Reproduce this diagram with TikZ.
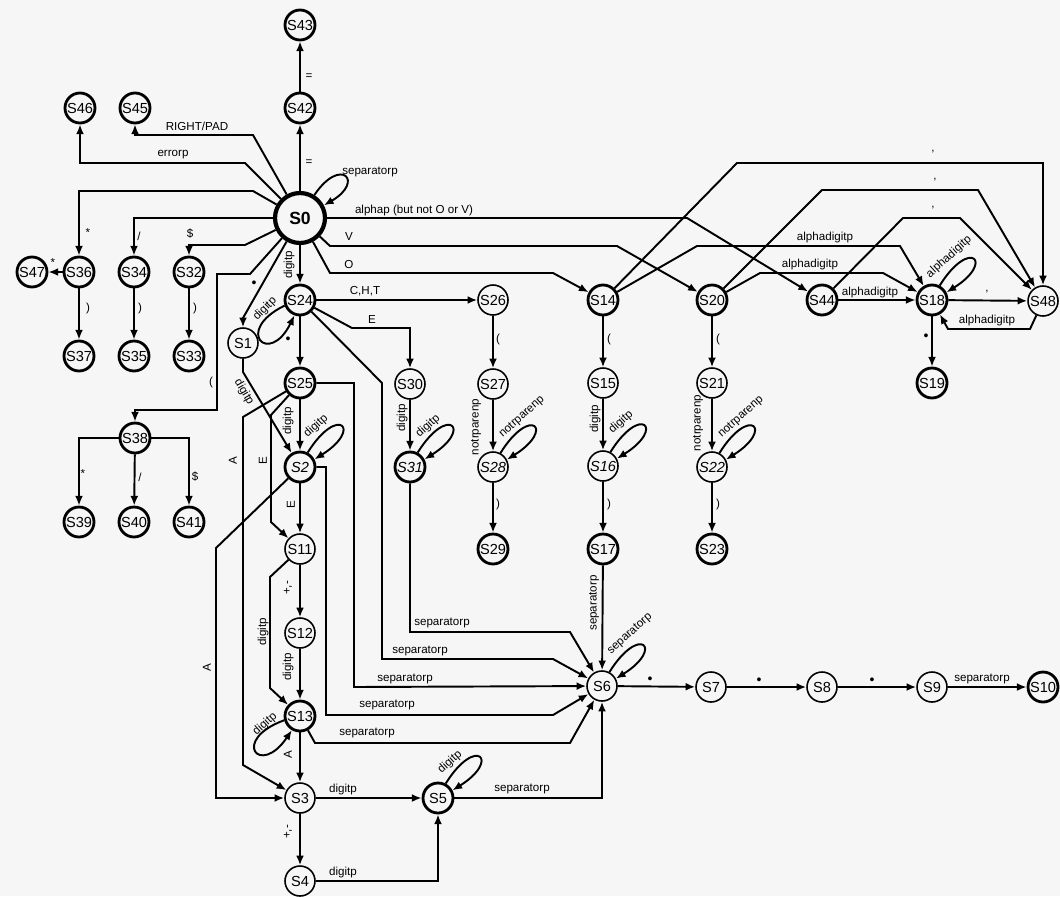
\documentclass[tikz,border=0pt]{standalone}
\usepackage{fontspec}
\setmainfont{Liberation Sans}
\usetikzlibrary{arrows.meta}
\definecolor{bg}{RGB}{246,246,246}
\begin{document}
\begin{tikzpicture}[x=0.02cm,y=-0.02cm,
  st/.style={circle,draw,line width=0.9pt,minimum size=0.6cm,inner sep=0pt,font=\fontsize{8.3}{9}\selectfont},
  stk/.style={st,line width=1.6pt},
  ed/.style={line width=1.1pt,-{Latex[length=5.5pt,width=4.5pt]}},
  lab/.style={font=\fontsize{6.6}{7}\selectfont,inner sep=0.5pt},
  vlab/.style={lab,rotate=90},
  llab/.style={lab,rotate=42},
  dot/.style={font=\fontsize{8}{8}\selectfont,inner sep=0.5pt}]
\fill[bg] (0,0) rectangle (1060,896);
\useasboundingbox (0,0) rectangle (1060,896);
% ---------- states
\node[stk] (S43) at (300,25) {S43};
\node[stk] (S42) at (300,108) {S42};
\node[stk] (S46) at (80,108) {S46};
\node[stk] (S45) at (135,108) {S45};
\node[st,minimum size=1cm,line width=2.4pt,font=\bfseries\fontsize{10}{11}\selectfont] (S0) at (300,218) {S0};
\node[stk] (S47) at (32,272) {S47};
\node[stk] (S36) at (79,272) {S36};
\node[stk] (S34) at (134,272) {S34};
\node[stk] (S32) at (189,272) {S32};
\node[stk] (S37) at (79,356) {S37};
\node[stk] (S35) at (134,356) {S35};
\node[stk] (S33) at (189,356) {S33};
\node[stk] (S38) at (135,438) {S38};
\node[stk] (S39) at (79,522) {S39};
\node[stk] (S40) at (134,522) {S40};
\node[stk] (S41) at (189,522) {S41};
\node[stk] (S24) at (300,300) {S24};
\node[st] (S1) at (243,343) {S1};
\node[stk] (S25) at (300,383) {S25};
\node[stk] (S2) at (300,467) {\itshape S2};
\node[st] (S11) at (300,549) {S11};
\node[st] (S12) at (300,633) {S12};
\node[stk] (S13) at (300,716) {S13};
\node[st] (S3) at (300,798) {S3};
\node[st] (S4) at (300,881) {S4};
\node[stk] (S5) at (438,798) {S5};
\node[st] (S6) at (602,686) {S6};
\node[st] (S7) at (711,687) {S7};
\node[st] (S8) at (822,687) {S8};
\node[st] (S9) at (932,687) {S9};
\node[stk] (S10) at (1043,687) {S10};
\node[st] (S26) at (493,300) {S26};
\node[st] (S27) at (493,384) {S27};
\node[st] (S28) at (493,467) {\itshape S28};
\node[stk] (S29) at (493,549) {S29};
\node[st] (S30) at (410,384) {S30};
\node[stk] (S31) at (410,467) {\itshape S31};
\node[stk] (S14) at (603,300) {S14};
\node[st] (S15) at (603,383) {S15};
\node[st] (S16) at (603,466) {\itshape S16};
\node[stk] (S17) at (603,549) {S17};
\node[stk] (S20) at (712,300) {S20};
\node[st] (S21) at (712,383) {S21};
\node[st] (S22) at (712,467) {\itshape S22};
\node[stk] (S23) at (712,549) {S23};
\node[stk] (S44) at (822,300) {S44};
\node[stk] (S18) at (932,300) {S18};
\node[stk] (S19) at (932,383) {S19};
\node[st] (S48) at (1043,301) {S48};
% ---------- S0 fan
\draw[ed] (S0) -- (S42);
\draw[ed] (S42) -- (S43);
\draw[ed] (S0.58) .. controls +(56:0.95cm) and +(30:0.95cm) .. (S0.28);
\draw[ed] (S0) -- (245,163) -- (80,163) -- (S46);
\draw[ed] (S0) -- (253,135) -- (135,135) -- (S45);
\draw[ed] (S0) -- (253,191) -- (79,191) -- (S36);
\draw[ed] (S0) -- (134,218) -- (S34);
\draw[ed] (S0) -- (245,245) -- (189,245) -- (S32);
\draw[ed] (S0) -- (250,274) -- (217,274) -- (217,410) -- (135,410) -- (S38);
\draw[ed] (S0) -- (243,318) -- (S1);
\draw[ed] (S0) -- (S24);
\draw[ed] (S0) -- (687,218) -- (S44);
\draw[ed] (S0) -- (330,246) -- (617,246) -- (S20);
\draw[ed] (S0) -- (330,273) -- (553,273) -- (S14);
% ---------- left groups
\draw[ed] (S36) -- (S47);
\draw[ed] (S36) -- (S37);
\draw[ed] (S34) -- (S35);
\draw[ed] (S32) -- (S33);
\draw[ed] (S38) -- (79,438) -- (S39);
\draw[ed] (S38) -- (S40);
\draw[ed] (S38) -- (189,438) -- (S41);
% ---------- number part
\draw[ed] (S24) -- (S26);
\draw[ed] (S24) -- (352,328) -- (410,328) -- (S30);
\draw[ed] (S24) -- (382,383) -- (382,659) -- (553,659) -- (S6);
\draw[ed] (S24) -- (S25);
\draw[ed] (S24.200) .. controls +(206:1.15cm) and +(244:1.15cm) .. (S24.250);
\draw[ed] (S1) -- (243,372) -- (S2);
\draw[ed] (S25) -- (S2);
\draw[ed] (S2.62) .. controls +(58:1.15cm) and +(32:1.15cm) .. (S2.28);
\draw[ed] (S2) -- (S11);
\draw[ed] (S25) -- (271,415) -- (271,522) -- (S11);
\draw[ed] (S25) -- (243,417) -- (243,765) -- (S3);
\draw[ed] (S2) -- (216,548) -- (216,798) -- (S3);
\draw[ed] (S25) -- (354,383) -- (354,687) -- (S6);
\draw[ed] (S2) -- (326,467) -- (326,715) -- (553,715) -- (S6);
\draw[ed] (S11) -- (S12);
\draw[ed] (S11) -- (270,577) -- (270,688) -- (S13);
\draw[ed] (S12) -- (S13);
\draw[ed] (S13.195) .. controls +(200:1.15cm) and +(236:1.15cm) .. (S13.240);
\draw[ed] (S13) -- (S3);
\draw[ed] (S13) -- (315,743) -- (570,743) -- (S6);
\draw[ed] (S3) -- (S5);
\draw[ed] (S3) -- (S4);
\draw[ed] (S4) -- (438,881) -- (S5);
\draw[ed] (S5.62) .. controls +(58:1.15cm) and +(32:1.15cm) .. (S5.28);
\draw[ed] (S5) -- (602,798) -- (S6);
% ---------- middle columns
\draw[ed] (S30) -- (S31);
\draw[ed] (S31.62) .. controls +(58:1.15cm) and +(32:1.15cm) .. (S31.28);
\draw[ed] (S31) -- (410,632) -- (570,632) -- (S6);
\draw[ed] (S26) -- (S27);
\draw[ed] (S27) -- (S28);
\draw[ed] (S28.62) .. controls +(58:1.15cm) and +(32:1.15cm) .. (S28.28);
\draw[ed] (S28) -- (S29);
\draw[ed] (S14) -- (S15);
\draw[ed] (S15) -- (S16);
\draw[ed] (S16.62) .. controls +(58:1.15cm) and +(32:1.15cm) .. (S16.28);
\draw[ed] (S16) -- (S17);
\draw[ed] (S17) -- (S6);
\draw[ed] (S20) -- (S21);
\draw[ed] (S21) -- (S22);
\draw[ed] (S22.62) .. controls +(58:1.15cm) and +(32:1.15cm) .. (S22.28);
\draw[ed] (S22) -- (S23);
% ---------- identifier part
\draw[ed] (S14) -- (737,163) -- (1043,163) -- (S48);
\draw[ed] (S14) -- (697,246) -- (900,246) -- (S18);
\draw[ed] (S20) -- (822,190) -- (978,190) -- (S48);
\draw[ed] (S20) -- (760,273) -- (883,273) -- (S18);
\draw[ed] (S44) -- (903,218) -- (960,218) -- (S48);
\draw[ed] (S44) -- (S18);
\draw[ed] (S18.62) .. controls +(58:1.15cm) and +(32:1.15cm) .. (S18.28);
\draw[ed] (S18) -- (S48);
\draw[ed] (S48) -- (1030,329) -- (948,329) -- (S18);
\draw[ed] (S18) -- (S19);
% ---------- S6 chain
\draw[ed] (S6.62) .. controls +(58:1.15cm) and +(32:1.15cm) .. (S6.28);
\draw[ed] (S6) -- (S7);
\draw[ed] (S7) -- (S8);
\draw[ed] (S8) -- (S9);
\draw[ed] (S9) -- (S10);
% ---------- labels
\node[lab] (l1) at (309,163) {=};
\node[lab] (l2) at (309,77) {=};
\node[lab] (l3) at (370,172) {separatorp};
\node[lab] (l4) at (173,155) {errorp};
\node[lab] (l5) at (197,126) {RIGHT/PAD};
\node[lab] (l6) at (88,233) {*};
\node[lab] (l7) at (139,236) {/};
\node[lab] (l8) at (190,234) {\$};
\node[lab] (l9) at (211,382) {(};
\node[dot] (l10) at (254,284) {•};
\node[vlab] (l11) at (289,265) {digitp};
\node[lab] (l12) at (414,210) {alphap (but not O or V)};
\node[lab] (l13) at (349,237) {V};
\node[lab] (l14) at (349,265) {O};
\node[lab] (l15) at (88,308) {)};
\node[lab] (l16) at (140,308) {)};
\node[lab] (l17) at (195,308) {)};
\node[lab] (l18) at (53,263) {*};
\node[lab] (l19) at (83,473) {*};
\node[lab] (l20) at (140,477) {/};
\node[lab] (l21) at (195,477) {\$};
\node[lab] (l22) at (365,291) {C,H,T};
\node[lab] (l23) at (372,320) {E};
\node[dot] (l24) at (288,340) {•};
\node[lab,rotate=45] (l25) at (265,309) {digitp};
\node[lab,rotate=-60] (l26) at (244,392) {digitp};
\node[vlab] (l27) at (288,421) {digitp};
\node[llab] (l28) at (316,426) {digitp};
\node[vlab] (l29) at (291,505) {E};
\node[vlab] (l30) at (263,461) {E};
\node[vlab] (l31) at (233,461) {A};
\node[vlab] (l32) at (207,668) {A};
\node[vlab] (l33) at (288,588) {+,-};
\node[vlab] (l34) at (263,632) {digitp};
\node[vlab] (l35) at (288,667) {digitp};
\node[llab] (l36) at (265,724) {digitp};
\node[vlab] (l37) at (288,755) {A};
\node[lab] (l38) at (367,733) {separatorp};
\node[lab] (l39) at (387,705) {separatorp};
\node[lab] (l40) at (405,679) {separatorp};
\node[lab] (l41) at (420,651) {separatorp};
\node[lab] (l42) at (442,623) {separatorp};
\node[lab] (l43) at (343,789) {digitp};
\node[vlab] (l44) at (288,832) {+,-};
\node[lab] (l45) at (343,872) {digitp};
\node[llab] (l46) at (450,762) {digitp};
\node[lab] (l47) at (522,789) {separatorp};
\node[vlab] (l48) at (594,603) {separatorp};
\node[llab] (l49) at (630,634) {separatorp};
\node[dot] (l50) at (650,680) {•};
\node[dot] (l51) at (759,681) {•};
\node[dot] (l52) at (872,681) {•};
\node[lab] (l53) at (982,679) {separatorp};
\node[vlab] (l54) at (402,418) {digitp};
\node[llab] (l55) at (428,426) {digitp};
\node[lab] (l56) at (498,339) {(};
\node[vlab] (l57) at (476,427) {notrparenp};
\node[llab] (l58) at (522,417) {notrparenp};
\node[lab] (l59) at (498,504) {)};
\node[lab] (l60) at (609,339) {(};
\node[vlab] (l61) at (595,419) {digitp};
\node[llab] (l62) at (621,422) {digitp};
\node[lab] (l63) at (609,504) {)};
\node[lab] (l64) at (718,339) {(};
\node[vlab] (l65) at (698,423) {notrparenp};
\node[llab] (l66) at (741,417) {notrparenp};
\node[lab] (l67) at (718,504) {)};
\node[lab] (l68) at (933,152) {,};
\node[lab] (l69) at (935,180) {,};
\node[lab] (l70) at (933,208) {,};
\node[lab] (l71) at (987,292) {,};
\node[lab] (l72) at (825,237) {alphadigitp};
\node[lab] (l73) at (810,264) {alphadigitp};
\node[lab] (l74) at (870,292) {alphadigitp};
\node[lab] (l75) at (987,320) {alphadigitp};
\node[llab] (l76) at (949,257) {alphadigitp};
\node[dot] (l77) at (926,337) {•};
\end{tikzpicture}
\end{document}
